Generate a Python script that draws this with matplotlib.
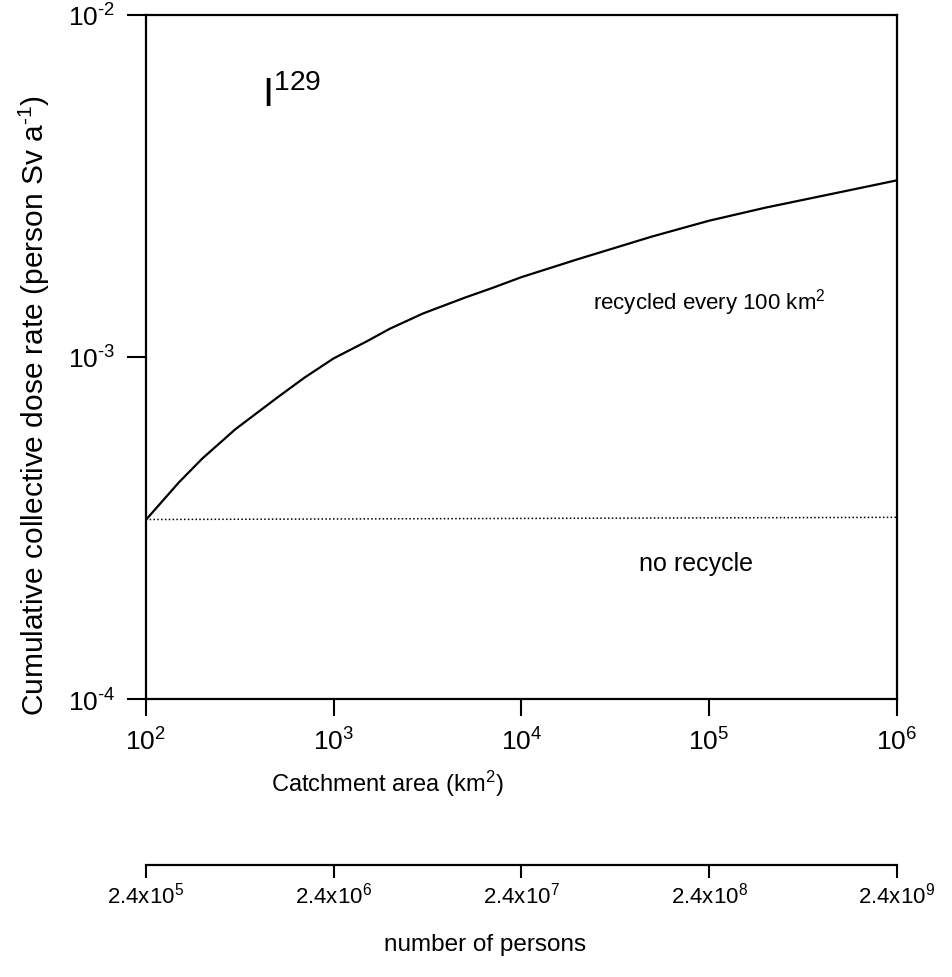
import numpy as np
import matplotlib
matplotlib.use('Agg')
import matplotlib.pyplot as plt
from matplotlib.ticker import FixedLocator, NullLocator

plt.rcParams['font.family'] = ['Liberation Sans', 'DejaVu Sans']
plt.rcParams['mathtext.fontset'] = 'custom'
plt.rcParams['mathtext.rm'] = 'Liberation Sans'
plt.rcParams['mathtext.it'] = 'Liberation Sans:italic'
plt.rcParams['mathtext.bf'] = 'Liberation Sans:bold'

# catchment area (km2) vs cumulative collective dose rate (person Sv/a), I-129
area = [1e2, 1.5e2, 2e2, 3e2, 5e2, 7e2, 1e3, 1.5e3, 2e3, 3e3, 5e3, 7e3,
        1e4, 2e4, 5e4, 1e5, 2e5, 5e5, 1e6]
dose_recycled = [3.34e-4, 4.3e-4, 5.05e-4, 6.15e-4, 7.6e-4, 8.7e-4, 9.9e-4, 1.11e-3,
                 1.21e-3, 1.34e-3, 1.49e-3, 1.59e-3, 1.71e-3, 1.93e-3, 2.25e-3,
                 2.5e-3, 2.73e-3, 3.03e-3, 3.28e-3]
area_norecycle = [1e2, 1e6]
dose_norecycle = [3.35e-4, 3.4e-4]

area_ticks = [1e2, 1e3, 1e4, 1e5, 1e6]
area_labels = [r'$\mathregular{10^{2}}$', r'$\mathregular{10^{3}}$', r'$\mathregular{10^{4}}$',
               r'$\mathregular{10^{5}}$', r'$\mathregular{10^{6}}$']
dose_ticks = [1e-4, 1e-3, 1e-2]
dose_labels = [r'$\mathregular{10^{\text{-}4}}$', r'$\mathregular{10^{\text{-}3}}$',
               r'$\mathregular{10^{\text{-}2}}$']
persons_ticks = [2.4e5, 2.4e6, 2.4e7, 2.4e8, 2.4e9]
persons_labels = [r'$\mathregular{2.4x10^{5}}$', r'$\mathregular{2.4x10^{6}}$', r'$\mathregular{2.4x10^{7}}$',
                  r'$\mathregular{2.4x10^{8}}$', r'$\mathregular{2.4x10^{9}}$']

fig = plt.figure(figsize=(9.53, 9.78), dpi=100)
ax = fig.add_axes([0.153, 0.284, 0.788, 0.700])

ax.plot(area, dose_recycled, color='black', lw=1.6)
ax.plot(area_norecycle, dose_norecycle, color='black', lw=1.1, linestyle=(0, (1, 1.5)))

ax.set_xscale('log')
ax.set_yscale('log')
ax.set_xlim(1e2, 1e6)
ax.set_ylim(1e-4, 1e-2)
ax.xaxis.set_major_locator(FixedLocator(area_ticks))
ax.xaxis.set_minor_locator(NullLocator())
ax.yaxis.set_major_locator(FixedLocator(dose_ticks))
ax.yaxis.set_minor_locator(NullLocator())
ax.set_xticklabels(area_labels)
ax.set_yticklabels(dose_labels)
ax.tick_params(axis='x', direction='out', length=12, width=1.5, labelsize=19, pad=8)
ax.tick_params(axis='y', direction='out', length=14, width=1.5, labelsize=19, pad=8)
for s in ax.spines.values():
    s.set_linewidth(1.6)

ax.set_xlabel(r'Catchment area (km$\mathregular{^{2}}$)', fontsize=17)
ax.xaxis.set_label_coords(0.322, -0.10)
ax.set_ylabel(r'Cumulative collective dose rate (person Sv a$\mathregular{^{\text{-}1}}$)', fontsize=21.5)
ax.yaxis.set_label_coords(-0.125, 0.43)

ax.text(0.155, 0.885, r'I$\mathregular{^{129}}$', transform=ax.transAxes, fontsize=29,
        ha='left', va='center')
ax.text(1e5, 1.45e-3, r'recycled every 100 km$\mathregular{^{2}}$', fontsize=16,
        ha='center', va='center')
ax.text(8.5e4, 2.5e-4, 'no recycle', fontsize=18, ha='center', va='center')

# second scale: number of persons
ax2 = fig.add_axes([0.153, 1 - 866 / 978, 0.788, 0.0001])
ax2.set_xscale('log')
ax2.set_xlim(2.4e5, 2.4e9)
ax2.xaxis.set_major_locator(FixedLocator(persons_ticks))
ax2.xaxis.set_minor_locator(NullLocator())
ax2.set_xticklabels(persons_labels)
ax2.set_yticks([])
for side in ['left', 'right', 'top']:
    ax2.spines[side].set_visible(False)
ax2.spines['bottom'].set_linewidth(1.6)
ax2.tick_params(axis='x', direction='out', length=9, width=1.5, labelsize=16, pad=3)
fig.text(485 / 953, 1 - 945 / 978, 'number of persons', fontsize=17.5, ha='center', va='center')

fig.savefig('out.png', dpi=100)
